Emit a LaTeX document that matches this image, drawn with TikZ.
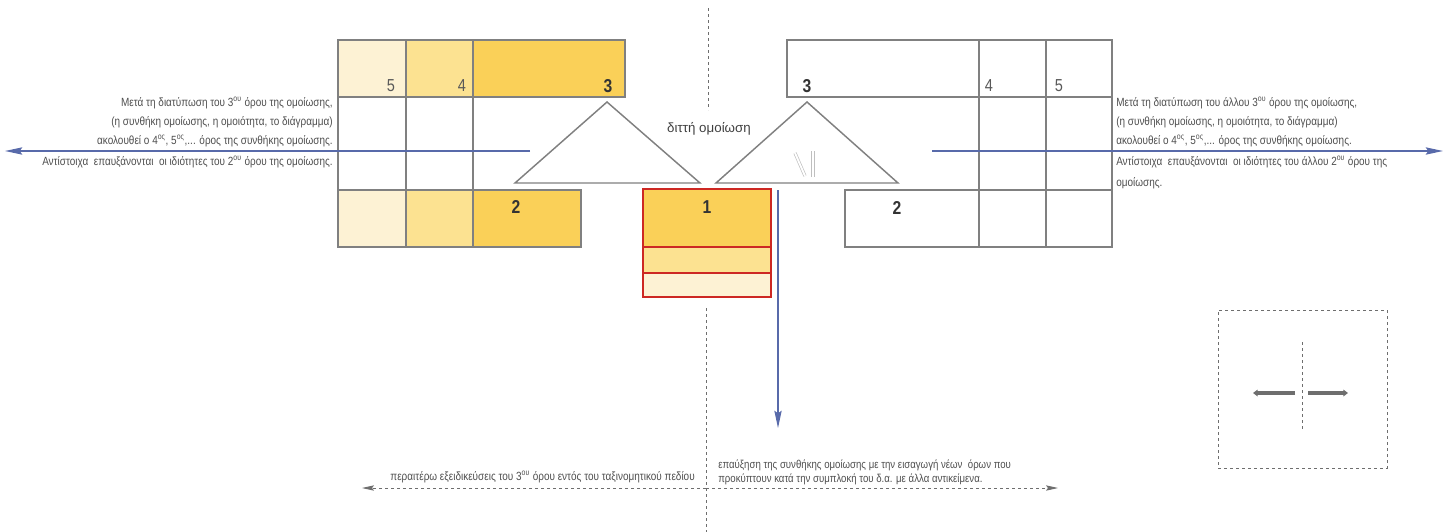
\documentclass[tikz,border=0pt]{standalone}
\usepackage{fontspec}
\setmainfont{Liberation Sans}
\newfontfamily\narrowfont[FakeStretch=0.84]{Liberation Sans}
\usetikzlibrary{arrows.meta,fit}

\definecolor{gridgray}{RGB}{128,128,128}
\definecolor{txtgray}{RGB}{78,78,78}
\definecolor{lineblue}{RGB}{88,106,170}
\definecolor{palecell}{RGB}{253,242,212}
\definecolor{midcell}{RGB}{252,226,145}
\definecolor{goldcell}{RGB}{250,208,88}
\definecolor{boxred}{RGB}{205,40,35}
\definecolor{dashgray}{RGB}{110,110,110}

% a grid cell spanning (x1,y1)-(x2,y2)
\newcommand\gridcell[6]{\node[cellbox,#6,fit={(#2,#3) (#4,#5)}] (#1) {};}

\tikzset{
  cellbox/.style={draw=gridgray, line width=0.9pt, inner sep=0pt, outer sep=0pt},
  pale/.style={fill=palecell},
  mid/.style={fill=midcell},
  gold/.style={fill=goldcell},
  redbox/.style={draw=boxred},
  sidetext/.style={font=\narrowfont\fontsize{8.9}{10}\selectfont, text=txtgray, inner sep=0pt},
  bottomtext/.style={font=\narrowfont\fontsize{8.6}{10}\selectfont, text=txtgray, inner sep=0pt},
  bignum/.style={font=\narrowfont\bfseries\fontsize{14}{14}\selectfont, text=black!80, inner sep=0pt},
  smallnum/.style={font=\narrowfont\fontsize{13}{13}\selectfont, text=black!65, inner sep=0pt},
  wedge/.style={draw=gridgray, line width=1.1pt, line join=miter},
  bluearrow/.style={draw=lineblue, line width=0.9pt, -{Stealth[length=13pt,width=5.5pt,inset=2pt]}},
  dashedarrow/.style={draw=dashgray, line width=0.7pt, dash pattern=on 2.5pt off 2pt, -{Stealth[length=9pt,width=4pt,inset=1.5pt]}},
  divider/.style={draw=dashgray, line width=0.7pt, dash pattern=on 2.5pt off 2pt},
  legendarrow/.style={draw=dashgray, line width=2.4pt, -{Triangle[length=3.5pt,width=5pt]}},
  hollowstroke/.style={draw=gray!50, line width=0.5pt, double=white, double distance=1.4pt},
}

\begin{document}
\begin{tikzpicture}[x=0.75pt,y=-0.75pt]
\useasboundingbox (0,0) rectangle (1450,532);

% ---- central dashed divider
\coordinate (divTop) at (708,8);
\coordinate (divMid) at (708,110);
\coordinate (divLow) at (706,308);
\coordinate (divBot) at (706,532);
\draw[divider] (divTop) -- (divMid);
\draw[divider] (divLow) -- (divBot);

% ---- left grid
\gridcell{L5}{338}{40}{406}{97}{pale}
\gridcell{L4}{406}{40}{473}{97}{mid}
\gridcell{L3}{473}{40}{625}{97}{gold}
\gridcell{La}{338}{97}{406}{190}{}
\gridcell{Lb}{406}{97}{473}{190}{}
\gridcell{L2p}{338}{190}{406}{247}{pale}
\gridcell{L2m}{406}{190}{473}{247}{mid}
\gridcell{L2}{473}{190}{581}{247}{gold}

\node[smallnum] (n5l) at (391,86) {5};
\node[smallnum] (n4l) at (462,86) {4};
\node[bignum] (n3l) at (608,86) {3};
\node[bignum] (n2l) at (516,207) {2};

% ---- right grid
\gridcell{R3}{787}{40}{979}{97}{}
\gridcell{R4}{979}{40}{1046}{97}{}
\gridcell{R5}{1046}{40}{1112}{97}{}
\gridcell{Ra}{979}{97}{1046}{190}{}
\gridcell{Rb}{1046}{97}{1112}{190}{}
\gridcell{R2}{845}{190}{979}{247}{}
\gridcell{R2a}{979}{190}{1046}{247}{}
\gridcell{R2b}{1046}{190}{1112}{247}{}

\node[bignum] (n3r) at (807,86) {3};
\node[smallnum] (n4r) at (989,86) {4};
\node[smallnum] (n5r) at (1059,86) {5};
\node[bignum] (n2r) at (897,208) {2};

% ---- term 1
\gridcell{B1}{643}{189}{771}{247}{gold,redbox}
\gridcell{B1m}{643}{247}{771}{273}{mid,redbox}
\gridcell{B1p}{643}{273}{771}{297}{pale,redbox}
\node[bignum] (n1) at (707,207) {1};

% ---- the two similarity wedges
\draw[wedge] (515,183) -- (607,102) -- (700,183) -- cycle;
\draw[wedge] (716,183) -- (807,102) -- (898,183) -- cycle;
\node[font=\fontsize{10}{10}\selectfont, text=black!75, inner sep=0pt] (ditti) at (709,129) {διττή ομοίωση};

% outlined strokes inside the right wedge
\draw[hollowstroke] (795,153) -- (805,176);
\draw[hollowstroke] (813,151) -- (813,177);

% ---- blue expansion arrows
\coordinate (lArrS) at (530,151);
\coordinate (lArrE) at (5,151);
\coordinate (rArrS) at (932,151);
\coordinate (rArrE) at (1443,151);
\coordinate (dArrS) at (778,190);
\coordinate (dArrE) at (778,428);
\draw[bluearrow] (lArrS) -- (lArrE);
\draw[bluearrow] (rArrS) -- (rArrE);
\draw[bluearrow] (dArrS) -- (dArrE);

% ---- left notes
\node[sidetext, anchor=east] (lt1) at (333,103) {Μετά τη διατύπωση του 3\textsuperscript{ου} όρου της ομοίωσης,};
\node[sidetext, anchor=east] (lt2) at (333,122) {(η συνθήκη ομοίωσης, η ομοιότητα, το διάγραμμα)};
\node[sidetext, anchor=east] (lt3) at (333,141) {ακολουθεί ο 4\textsuperscript{ος}, 5\textsuperscript{ος},... όρος της συνθήκης ομοίωσης.};
\node[sidetext, anchor=east] (lt4) at (333,162) {Αντίστοιχα \ επαυξάνονται \ οι ιδιότητες του 2\textsuperscript{ου} όρου της ομοίωσης.};

% ---- right notes
\node[sidetext, anchor=west] (rt1) at (1116,103) {Μετά τη διατύπωση του άλλου 3\textsuperscript{ου} όρου της ομοίωσης,};
\node[sidetext, anchor=west] (rt2) at (1116,122) {(η συνθήκη ομοίωσης, η ομοιότητα, το διάγραμμα)};
\node[sidetext, anchor=west] (rt3) at (1116,141) {ακολουθεί ο 4\textsuperscript{ος}, 5\textsuperscript{ος},... όρος της συνθήκης ομοίωσης.};
\node[sidetext, anchor=west] (rt4) at (1116,162) {Αντίστοιχα \ επαυξάνονται \ οι ιδιότητες του άλλου 2\textsuperscript{ου} όρου της};
\node[sidetext, anchor=west] (rt5) at (1116,183) {ομοίωσης.};

% ---- bottom: specialisation and extension
\coordinate (bOrig) at (706,488);
\coordinate (bLeft) at (362,488);
\coordinate (bRight) at (1058,488);
\draw[dashedarrow] (bOrig) -- (bLeft);
\draw[dashedarrow] (bOrig) -- (bRight);
\node[bottomtext, font=\narrowfont\fontsize{8.9}{10}\selectfont, anchor=east] (bt1) at (695,477) {περαιτέρω εξειδικεύσεις του 3\textsuperscript{ου} όρου εντός του ταξινομητικού πεδίου};
\node[bottomtext, anchor=west] (bt2) at (718,465) {επαύξηση της συνθήκης ομοίωσης με την εισαγωγή νέων \ όρων που};
\node[bottomtext, anchor=west] (bt3) at (718,479) {προκύπτουν κατά την συμπλοκή του δ.α. με άλλα αντικείμενα.};

% ---- legend
\node[draw=dashgray, line width=0.7pt, dash pattern=on 2.5pt off 2pt, inner sep=0pt, fit={(1218,310) (1387,468)}] (legend) {};
\coordinate (lgTop) at (1302,342);
\coordinate (lgBot) at (1302,430);
\draw[divider] (lgTop) -- (lgBot);
\coordinate (lgLS) at (1295,393);
\coordinate (lgLE) at (1253,393);
\coordinate (lgRS) at (1308,393);
\coordinate (lgRE) at (1348,393);
\draw[legendarrow] (lgLS) -- (lgLE);
\draw[legendarrow] (lgRS) -- (lgRE);
\end{tikzpicture}
\end{document}
